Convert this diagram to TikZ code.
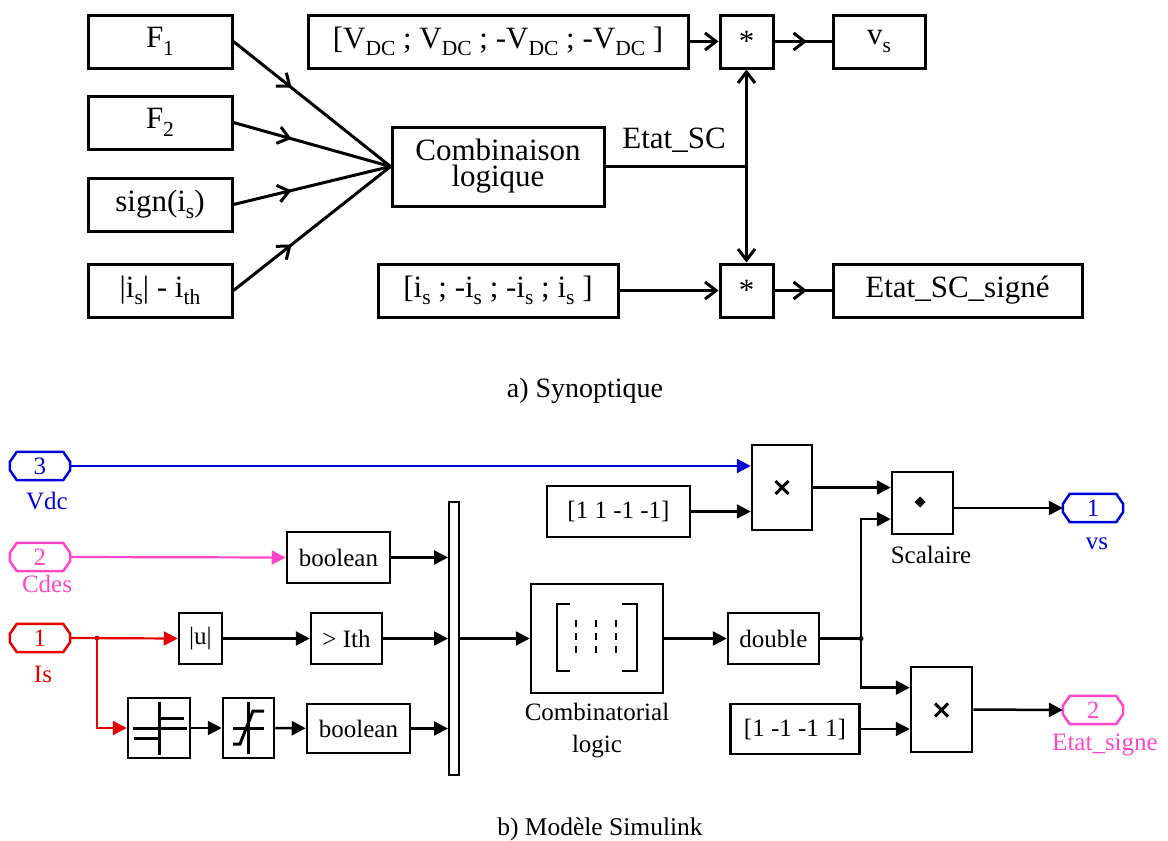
\documentclass[tikz,border=0pt]{standalone}
\usepackage{fontspec}
\setmainfont{Liberation Serif}
\usetikzlibrary{arrows.meta,decorations.markings,calc}
\definecolor{sblue}{RGB}{0,0,215}
\definecolor{smag}{RGB}{255,70,200}
\definecolor{sred}{RGB}{230,0,0}
\newcommand\lo[1]{\raisebox{-7.5pt}{\fontsize{21.5}{21.5}\selectfont #1}}
\newcommand\portshape[2]{\draw[#2,line width=2.5pt,line join=round]
  ($(#1.west)+(0,-4)$) -- ($(#1.north west)+(7,0)$) -- ($(#1.north east)+(-7,0)$) --
  ($(#1.east)+(0,-4)$) -- ($(#1.east)+(0,4)$) -- ($(#1.south east)+(-7,0)$) --
  ($(#1.south west)+(7,0)$) -- ($(#1.west)+(0,4)$) -- cycle;}
\begin{document}
\begin{tikzpicture}[x=1pt,y=-1pt,
  topbox/.style={draw,line width=3pt,inner sep=0pt,font=\fontsize{31}{26}\selectfont,align=center},
  topline/.style={line width=3pt},
  topar/.style={line width=3pt,-{Straight Barb[length=11pt,width=17pt]}},
  midarr/.style={line width=3pt,postaction={decorate},decoration={markings,mark=at position #1 with {\arrow{Straight Barb[length=11pt,width=17pt,line width=3pt]}}}},
  sbox/.style={draw,line width=2.5pt,inner sep=0pt,font=\fontsize{25}{32}\selectfont,align=center},
  sl/.style={line width=2.5pt},
  sar/.style={line width=2.5pt,-{Triangle[length=14pt,width=14pt]}},
  port/.style={text=#1,minimum width=60pt,minimum height=28pt,inner sep=0pt,
    font=\fontsize{25}{25}\selectfont},
  lab/.style={inner sep=0pt,font=\fontsize{25}{32}\selectfont,align=center},
  icon/.style={line width=3pt}
]
\useasboundingbox (0,0) rectangle (1168,841);

% ---------------- a) Synoptique ----------------
\node[topbox,minimum width=144pt,minimum height=53pt] (F1) at (160,41.5) {F\lo{1}};
\node[topbox,minimum width=144pt,minimum height=53pt] (F2) at (160,122.5) {F\lo{2}};
\node[topbox,minimum width=144pt,minimum height=53pt] (sg) at (160,204.5) {sign(i\lo{s})};
\node[topbox,minimum width=144pt,minimum height=53pt] (ab) at (160,290.5) {|i\lo{s}| - i\lo{th}};
\node[topbox,minimum width=212pt,minimum height=79pt] (comb) at (498,166.5) {Combinaison\\logique};
\node[topbox,minimum width=380pt,minimum height=53pt] (vdc) at (498,41.5) {[V\lo{DC} ; V\lo{DC} ; -V\lo{DC} ; -V\lo{DC} ]};
\node[topbox,minimum width=53pt,minimum height=53pt] (m1) at (746.5,41.5) {*};
\node[topbox,minimum width=92pt,minimum height=53pt] (vs) at (879,41.5) {v\lo{s}};
\node[topbox,minimum width=240pt,minimum height=53pt] (isv) at (498,290.5) {[i\lo{s} ; -i\lo{s} ; -i\lo{s} ; i\lo{s} ]};
\node[topbox,minimum width=53pt,minimum height=53pt] (m2) at (746.5,290.5) {*};
\node[topbox,minimum width=249pt,minimum height=53pt] (ess) at (957.5,290.5) {Etat\_SC\_signé};
\coordinate (j) at (746.5,166.5);
\node[inner sep=0pt,font=\fontsize{31}{31}\selectfont] (esl) at (674,140) {Etat\_SC};

\draw[midarr=0.37] (F1.east) -- (comb.west);
\draw[midarr=0.37] (F2.east) -- (comb.west);
\draw[midarr=0.37] (sg.east) -- (comb.west);
\draw[midarr=0.37] (ab.east) -- (comb.west);
\draw[topar] (vdc.east) -- (m1.west);
\draw[topar] (isv.east) -- (m2.west);
\draw[midarr=0.57] (m1.east) -- (vs.west);
\draw[midarr=0.57] (m2.east) -- (ess.west);
\draw[topline] (comb.east) -- (j);
\draw[topar] (j) -- (m1.south);
\draw[topar] (j) -- (m2.north);

\node[inner sep=0pt,font=\fontsize{28}{28}\selectfont] (capa) at (585,391) {a) Synoptique};

% ---------------- b) Modele Simulink ----------------
\node[port=sblue] (in3) at (40,466) {3};
\node[port=smag] (in2) at (40,557) {2};
\node[port=sred] (in1) at (40,638) {1};
\portshape{in3}{sblue}
\portshape{in2}{smag}
\portshape{in1}{sred}
\node[lab,text=sblue] (l3) at (47,501) {Vdc};
\node[lab,text=smag] (l2) at (47,584) {Cdes};
\node[lab,text=sred] (l1) at (43,674) {Is};

\node[sbox,minimum width=103pt,minimum height=51pt] (b1) at (338.5,557.5) {boolean};
\node[sbox,minimum width=43pt,minimum height=51pt] (au) at (200.5,638.5) {|u|};
\node[sbox,minimum width=71pt,minimum height=51pt] (ith) at (346.5,638.5) {> Ith};
\node[sbox,minimum width=62pt,minimum height=60pt] (rel) at (159,728) {};
\node[sbox,minimum width=51pt,minimum height=60pt] (sat) at (248.5,728) {};
\node[sbox,minimum width=103pt,minimum height=49pt] (b2) at (358.5,728.5) {boolean};
\node[draw,line width=2pt,fill=white,inner sep=0pt,minimum width=10pt,minimum height=273pt] (mux) at (454,638.5) {};
\node[sbox,minimum width=132pt,minimum height=109pt] (cl) at (597,638.5) {};
\node[lab] (cll) at (597,731) {Combinatorial\\logic};
\node[sbox,minimum width=91pt,minimum height=51pt] (dbl) at (773.5,638.5) {double};
\node[sbox,minimum width=60pt,minimum height=85pt] (p1) at (782,487.5) {};
\node[sbox,minimum width=143pt,minimum height=51pt] (c1) at (618.5,511.5) {[1 1 -1 -1]};
\node[sbox,minimum width=61pt,minimum height=62pt] (sc) at (922.5,503) {};
\node[lab] (scl) at (931,555) {Scalaire};
\node[sbox,minimum width=61pt,minimum height=85pt] (p2) at (941.5,709.5) {};
\node[sbox,minimum width=129pt,minimum height=50pt] (c2) at (795,729) {[1 -1 -1 1]};
\node[port=sblue] (out1) at (1093,508) {1};
\node[port=smag] (out2) at (1093,710) {2};
\portshape{out1}{sblue}
\portshape{out2}{smag}
\node[lab,text=sblue] (lo1) at (1097,544) {vs};
\node[lab,text=smag] (lo2) at (1105,745) {Etat\_signe};

\coordinate (br1) at (97,638);
\coordinate (br2) at (861,638.5);

% connectors
\draw[sar,draw=sblue,line width=2.2pt,-{Triangle[length=14pt,width=14pt,fill=sblue]}] (in3.east) -- (in3.east -| p1.west);
\draw[sar,draw=smag,line width=2.2pt,-{Triangle[length=14pt,width=14pt,fill=smag]}] (in2.east) -- (b1.west);
\draw[sar,draw=sred,line width=2.2pt,-{Triangle[length=14pt,width=14pt,fill=sred]}] (in1.east) -- (au.west);
\draw[sar,draw=sred,line width=2.2pt,-{Triangle[length=14pt,width=14pt,fill=sred]}] (br1) |- (rel.west);
\fill[sred] (br1) circle (2.5pt);
\draw[sar] (au) -- (ith);
\draw[sar] (ith.east) -- (ith.east -| mux.west);
\draw[sar] (b1.east) -- (b1.east -| mux.west);
\draw[sar] (rel) -- (sat);
\draw[sar] (sat) -- (b2);
\draw[sar] (b2.east) -- (b2.east -| mux.west);
\draw[sar] (mux.east) -- (cl.west);
\draw[sar] (cl) -- (dbl);
\draw[sl] (dbl.east) -- (br2);
\fill (br2) circle (2.5pt);
\draw[sar] (br2) |- ($(sc.south west)!0.25!(sc.north west)$);
\draw[sar] (br2) |- ($(p2.north west)!0.25!(p2.south west)$);
\draw[sar] (c1.east) -- (c1.east -| p1.west);
\draw[sar] (p1.east) -- (p1.east -| sc.west);
\draw[sar] (c2.east) -- (c2.east -| p2.west);
\draw[sar] (sc.east |- out1.west) -- (out1.west);
\draw[sar] (p2.east) -- (out2.west);

% icons
\draw[icon] (133,728) -- (187,728) (159,702) -- (159,755) (159,718) -- (184,718) (134,738) -- (159,738);
\draw[icon] (233,728) -- (264,728) (248,702) -- (248,754);
\draw[icon,line join=miter] (233,744) -- (240,744) -- (253,711) -- (264,711);
\draw[icon,line width=2.5pt] (570,604) -- (557,604) -- (557,671) -- (570,671)
   (622,604) -- (637,604) -- (637,671) -- (622,671);
\foreach \xx in {576,596,616} \draw[line width=2.5pt,dash pattern=on 7pt off 6pt] (\xx,620) -- (\xx,657);
\draw[icon] (775.5,481) -- (788.5,494) (775.5,494) -- (788.5,481);
\draw[icon] (935,703.5) -- (948,716.5) (935,716.5) -- (948,703.5);
\fill (920,496.5) -- (925.5,502) -- (920,507.5) -- (914.5,502) -- cycle;

\node[inner sep=0pt,font=\fontsize{25.5}{25.5}\selectfont] (capb) at (600,829) {b) Modèle Simulink};
\end{tikzpicture}
\end{document}
